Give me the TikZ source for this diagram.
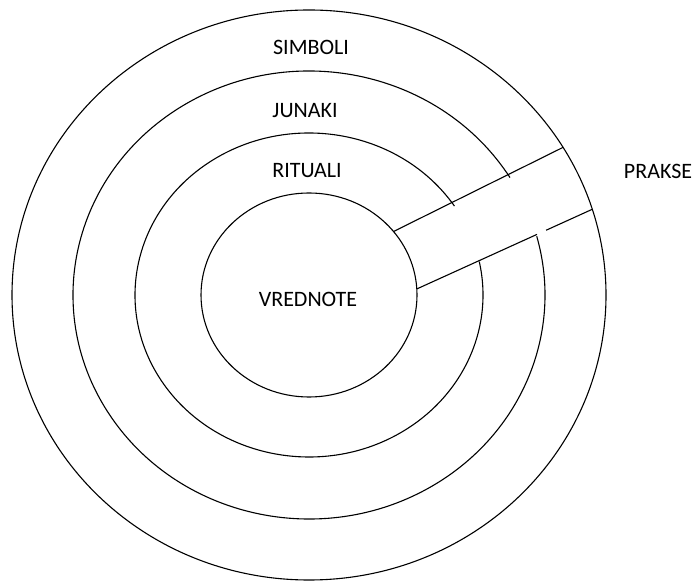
\documentclass[tikz,border=0pt]{standalone}
\usepackage{fontspec}
\setmainfont{Carlito}
\usetikzlibrary{calc}
\tikzset{
  ring/.style={line width=1.1pt},
  lbl/.style={anchor=base, inner sep=0pt, font=\fontsize{22}{26}\selectfont}
}

\begin{document}
\begin{tikzpicture}[x=1pt, y=1pt]
  \useasboundingbox (0,0) rectangle (700,583);
  \coordinate (c) at (309,288);
  % Outer and inner rings, unbroken
  \draw[ring] (c) ellipse [x radius=297, y radius=285];
  \draw[ring] (c) ellipse [x radius=108, y radius=102];
  % Middle rings, cut where the band passes
  \draw[ring] ($(c)+(31.6:236 and 224)$) arc[start angle=31.6, end angle=375.2, x radius=236, y radius=224];
  \draw[ring] ($(c)+(33.3:174 and 162)$) arc[start angle=33.3, end angle=371.9, x radius=174, y radius=162];
  % Band edges
  \coordinate (a) at ($(c)+(38.5:108 and 102)$);
  \coordinate (b) at ($(c)+(31.2:297 and 285)$);
  \coordinate (p) at ($(c)+(3.4:108 and 102)$);
  \coordinate (q) at ($(c)+(17.5:297 and 285)$);
  \draw[ring] (a) -- (b);
  \draw[ring] (p) -- ($(p)!0.685!(q)$);
  \draw[ring] ($(p)!0.737!(q)$) -- (q);
  % Labels
  \node[lbl] (simboli) at (311,528) {SIMBOLI};
  \node[lbl] (junaki) at (305,465) {JUNAKI};
  \node[lbl] (rituali) at (307,405) {RITUALI};
  \node[lbl] (vrednote) at (308,276) {VREDNOTE};
  \node[lbl] (prakse) at (658,404) {PRAKSE};
\end{tikzpicture}
\end{document}
